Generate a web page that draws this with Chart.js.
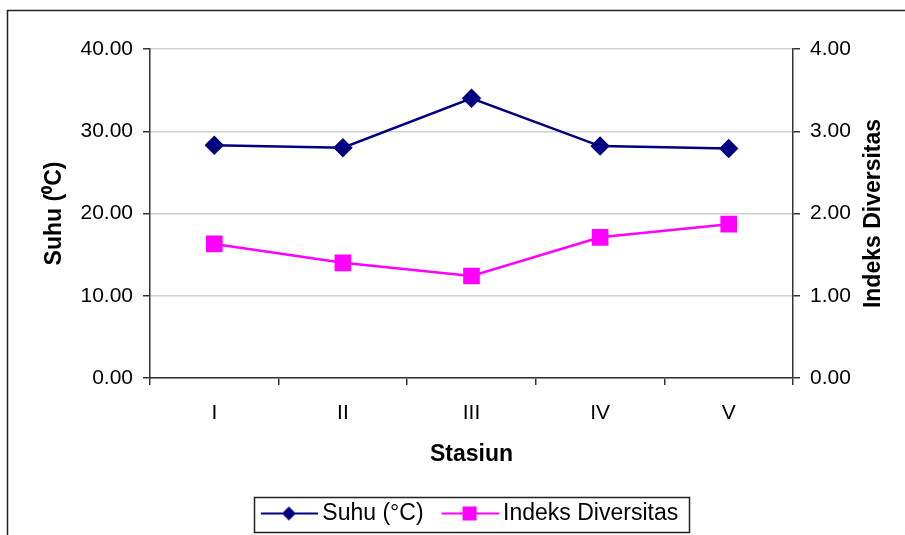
<!DOCTYPE html>
<html>
<head>
<meta charset="utf-8">
<script src="https://cdn.jsdelivr.net/npm/chart.js@4/dist/chart.umd.min.js"></script>
<style>
  html, body { margin: 0; padding: 0; background: #fff; }
  canvas { display: block; }
</style>
</head>
<body>
<canvas id="chart" width="905" height="535"></canvas>
<script>
const stations = ['I', 'II', 'III', 'IV', 'V'];
const suhu = [28.3, 28.0, 34.0, 28.2, 27.9];
const indeks = [1.63, 1.40, 1.24, 1.71, 1.87];
const suhuTicks = [0, 10, 20, 30, 40];
const indeksTicks = [0, 1, 2, 3, 4];

const NAVY = '#000080';
const PINK = '#FF00FF';
const FONT = 'Arial, "Liberation Sans", sans-serif';

// legend icons: line with the marker in the middle
function makeIcon(color, shape) {
  const c = document.createElement('canvas');
  c.width = 76;
  c.height = 20;
  const g = c.getContext('2d');
  g.strokeStyle = color;
  g.lineWidth = 2;
  g.beginPath();
  g.moveTo(19, 10);
  g.lineTo(76, 10);
  g.stroke();
  g.fillStyle = color;
  const cx = 47;
  if (shape === 'diamond') {
    g.beginPath();
    g.moveTo(cx, 3);
    g.lineTo(cx + 7, 10);
    g.lineTo(cx, 17);
    g.lineTo(cx - 7, 10);
    g.closePath();
    g.fill();
  } else {
    g.fillRect(cx - 7, 3, 14, 14);
  }
  return c;
}
const legendIcons = [makeIcon(NAVY, 'diamond'), makeIcon(PINK, 'square')];

const framePlugin = {
  id: 'frame',
  beforeDraw(chart) {
    // nudge the legend a bit to the left, like the original
    const lg = chart.legend;
    if (lg && !lg._nudged) {
      lg.left -= 8;
      lg.right -= 8;
      lg.adjustHitBoxes();
      lg._nudged = true;
    }
    const ctx = chart.ctx;
    ctx.save();
    ctx.strokeStyle = '#222';
    ctx.lineWidth = 1.5;
    ctx.strokeRect(7.5, 10.5, 2000, 2000);
    ctx.restore();
  },
  afterDraw(chart) {
    const ctx = chart.ctx;
    const area = chart.chartArea;
    // right axis title, reads bottom to top
    ctx.save();
    ctx.translate(874, (area.top + area.bottom) / 2);
    ctx.rotate(-Math.PI / 2);
    ctx.font = 'bold 23px ' + FONT;
    ctx.fillStyle = '#000';
    ctx.textAlign = 'center';
    ctx.textBaseline = 'middle';
    ctx.fillText('Indeks Diversitas', 0, 0);
    ctx.restore();

    // box round the legend
    const lg = chart.legend;
    if (lg && lg.legendHitBoxes && lg.legendHitBoxes.length) {
      const boxes = lg.legendHitBoxes;
      const left = boxes[0].left + 5;
      const last = boxes[boxes.length - 1];
      const right = last.left + last.width + 11;
      ctx.save();
      ctx.strokeStyle = '#222';
      ctx.lineWidth = 1.5;
      ctx.strokeRect(Math.round(left) + 0.5, 497.5, Math.round(right - left), 35);
      ctx.restore();
    }
  }
};

new Chart(document.getElementById('chart'), {
  type: 'line',
  data: {
    labels: stations,
    datasets: [
      {
        label: 'Suhu (°C)',
        data: suhu,
        yAxisID: 'y',
        borderColor: NAVY,
        backgroundColor: NAVY,
        borderWidth: 2.5,
        pointStyle: 'rectRot',
        pointRadius: 8,
        pointHoverRadius: 8,
        tension: 0
      },
      {
        label: 'Indeks Diversitas',
        data: indeks,
        yAxisID: 'y1',
        borderColor: PINK,
        backgroundColor: PINK,
        borderWidth: 2.5,
        pointStyle: 'rect',
        pointRadius: 10,
        pointHoverRadius: 10,
        tension: 0
      }
    ]
  },
  options: {
    responsive: false,
    animation: false,
    devicePixelRatio: 1,
    layout: { padding: { top: 49, left: 0, right: 0, bottom: 0 } },
    plugins: {
      tooltip: { enabled: false },
      legend: {
        position: 'bottom',
        fullSize: false,
        labels: {
          usePointStyle: true,
          pointStyleWidth: 62,
          padding: 6,
          color: '#000',
          font: { family: FONT, size: 23 },
          generateLabels(chart) {
            const items = Chart.defaults.plugins.legend.labels.generateLabels(chart);
            items.forEach((it, i) => { it.pointStyle = legendIcons[i]; it.rotation = 0; });
            return items;
          }
        }
      }
    },
    scales: {
      x: {
        offset: true,
        afterFit(scale) { scale.height = 118; },
        grid: {
          offset: true,
          drawOnChartArea: false,
          drawTicks: true,
          tickLength: 7,
          color: '#333',
          lineWidth: 1.5
        },
        border: { display: true, color: '#333', width: 1.5 },
        ticks: {
          color: '#000',
          padding: 16,
          font: { family: FONT, size: 21 }
        },
        title: {
          display: true,
          text: 'Stasiun',
          color: '#000',
          font: { family: FONT, size: 23, weight: 'bold' },
          padding: { top: 0, bottom: 28 }
        }
      },
      y: {
        position: 'left',
        min: 0,
        max: 40,
        afterFit(scale) { scale.width = 150; },
        afterBuildTicks(scale) { scale.ticks = suhuTicks.map(v => ({ value: v })); },
        grid: {
          color: '#d0d0d0',
          lineWidth: 1.5,
          tickColor: '#333',
          tickLength: 7
        },
        border: { display: true, color: '#333', width: 1.5 },
        ticks: {
          color: '#000',
          padding: 10,
          font: { family: FONT, size: 21 },
          callback: v => Number(v).toFixed(2)
        },
        title: {
          display: true,
          text: 'Suhu (⁰C)',
          color: '#000',
          font: { family: FONT, size: 23, weight: 'bold' },
          padding: { top: 41, bottom: 0 }
        }
      },
      y1: {
        position: 'right',
        min: 0,
        max: 4,
        afterFit(scale) { scale.width = 112; },
        afterBuildTicks(scale) { scale.ticks = indeksTicks.map(v => ({ value: v })); },
        grid: {
          drawOnChartArea: false,
          color: '#333',
          lineWidth: 1.5,
          tickLength: 7
        },
        border: { display: true, color: '#333', width: 1.5 },
        ticks: {
          color: '#000',
          padding: 10,
          font: { family: FONT, size: 21 },
          callback: v => Number(v).toFixed(2)
        }
      }
    }
  },
  plugins: [framePlugin]
});
</script>
</body>
</html>
